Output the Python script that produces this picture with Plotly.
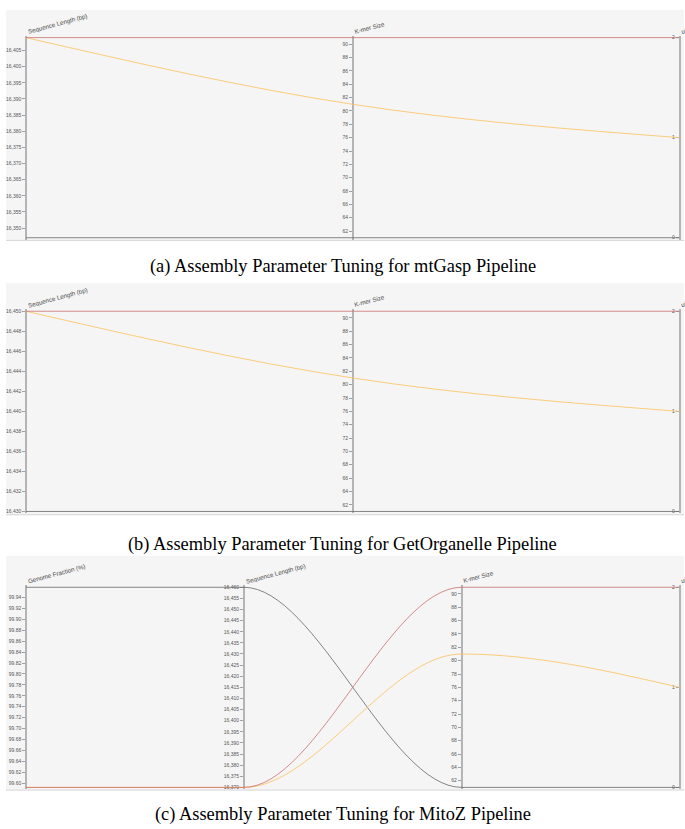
import plotly.graph_objects as go

W, H = 685, 829

# ---- tuning runs (uid 0, 1, 2) per pipeline ----
run_uid = [0, 1, 2]

mtgasp_seq_length = [16347, 16409, 16409]
mtgasp_kmer_size = [61, 81, 91]

getorganelle_seq_length = [16430, 16450, 16450]
getorganelle_kmer_size = [61, 81, 91]

mitoz_genome_fraction = [99.959, 99.592, 99.592]
mitoz_seq_length = [16460, 16370, 16370]
mitoz_kmer_size = [61, 81, 91]

captions = [
    "(a) Assembly Parameter Tuning for mtGasp Pipeline",
    "(b) Assembly Parameter Tuning for GetOrganelle Pipeline",
    "(c) Assembly Parameter Tuning for MitoZ Pipeline",
]

axis_titles = {
    "gf": "Genome Fraction (%)",
    "seq": "Sequence Length (bp)",
    "kmer": "K-mer Size",
    "uid": "uid",
}

run_colors = ["rgba(95,95,95,0.75)", "rgba(252,196,100,0.85)", "rgba(200,104,104,0.75)"]

# dimension = (title, values, tick0, dtick, tickformat)
panels = [
    dict(
        dims=[
            (axis_titles["seq"], mtgasp_seq_length, 16350, 5, ",d"),
            (axis_titles["kmer"], mtgasp_kmer_size, 62, 2, "d"),
            (axis_titles["uid"], run_uid, 0, 1, "d"),
        ],
        bg=(9, 240), axes=(36.7, 237.3), cap_y=266,
    ),
    dict(
        dims=[
            (axis_titles["seq"], getorganelle_seq_length, 16430, 2, ",d"),
            (axis_titles["kmer"], getorganelle_kmer_size, 62, 2, "d"),
            (axis_titles["uid"], run_uid, 0, 1, "d"),
        ],
        bg=(283, 515), axes=(311, 511.7), cap_y=545,
    ),
    dict(
        dims=[
            (axis_titles["gf"], mitoz_genome_fraction, 99.60, 0.02, ".2f"),
            (axis_titles["seq"], mitoz_seq_length, 16370, 5, ",d"),
            (axis_titles["kmer"], mitoz_kmer_size, 62, 2, "d"),
            (axis_titles["uid"], run_uid, 0, 1, "d"),
        ],
        bg=(556, 791), axes=(587.7, 788.3), cap_y=815,
    ),
]

X_FIRST, X_LAST = 26.0, 679.5
PAD = 0.01  # small head-room so curves sitting on an axis end are not clipped
SANS = "Liberation Sans, Arial, sans-serif"


def px_x(v):
    return v / W


def px_y(v):
    return 1 - v / H


def tick_positions(lo, hi, tick0, dtick):
    """Tick values inside the data extent only."""
    out, i = [], 0
    while True:
        v = round(tick0 + i * dtick, 6)
        if v > hi + 1e-9:
            break
        if v >= lo - 1e-9:
            out.append(v)
        i += 1
    return out


def monotone_path(xs, ys):
    """Monotone cubic (Fritsch-Carlson style) path through the points."""
    n = len(xs)
    sgn = lambda v: -1 if v < 0 else 1
    t = [0.0] * n
    for i in range(1, n - 1):
        h0, h1 = xs[i] - xs[i - 1], xs[i + 1] - xs[i]
        s0 = (ys[i] - ys[i - 1]) / h0
        s1 = (ys[i + 1] - ys[i]) / h1
        p = (s0 * h1 + s1 * h0) / (h0 + h1)
        t[i] = (sgn(s0) + sgn(s1)) * min(abs(s0), abs(s1), 0.5 * abs(p))
    if n == 2:
        return f"M {xs[0]},{ys[0]} L {xs[1]},{ys[1]}"
    t[0] = (3 * (ys[1] - ys[0]) / (xs[1] - xs[0]) - t[1]) / 2
    t[-1] = (3 * (ys[-1] - ys[-2]) / (xs[-1] - xs[-2]) - t[-2]) / 2
    d = f"M {xs[0]},{ys[0]}"
    for i in range(n - 1):
        dx = (xs[i + 1] - xs[i]) / 3
        d += (f" C {xs[i] + dx},{ys[i] + dx * t[i]}"
              f" {xs[i + 1] - dx},{ys[i + 1] - dx * t[i + 1]}"
              f" {xs[i + 1]},{ys[i + 1]}")
    return d


fig = go.Figure()
layout = dict(
    width=W, height=H,
    margin=dict(l=0, r=0, t=0, b=0),
    paper_bgcolor="white", plot_bgcolor="rgba(0,0,0,0)",
    showlegend=False,
    shapes=[], annotations=[],
)

next_axis = len(panels) + 1
for k, panel in enumerate(panels, start=1):
    sfx = "" if k == 1 else str(k)
    xref, yref = f"x{sfx}", f"y{sfx}"
    top, bot = panel["axes"]
    span = bot - top
    dims = panel["dims"]
    n = len(dims)

    # panel background with a thin bottom rule
    layout["shapes"].append(dict(
        type="rect", xref="paper", yref="paper", layer="below",
        x0=px_x(6), x1=px_x(684), y0=px_y(panel["bg"][1]), y1=px_y(panel["bg"][0]),
        fillcolor="#f5f5f5", line=dict(width=0),
    ))
    layout["shapes"].append(dict(
        type="line", xref="paper", yref="paper", layer="below",
        x0=px_x(6), x1=px_x(684), y0=px_y(panel["bg"][1]), y1=px_y(panel["bg"][1]),
        line=dict(color="#d6d6d6", width=1),
    ))

    # normalised base axes that carry the curves
    layout[f"xaxis{sfx}"] = dict(
        domain=[px_x(X_FIRST), px_x(X_LAST)], range=[0, n - 1],
        anchor=yref, visible=False, fixedrange=True,
    )
    layout[f"yaxis{sfx}"] = dict(
        domain=[px_y(bot + PAD * span), px_y(top - PAD * span)], range=[-PAD, 1 + PAD],
        anchor=xref, visible=False, fixedrange=True,
    )

    lows = [min(v) for _, v, *_ in dims]
    highs = [max(v) for _, v, *_ in dims]

    for j, (title, vals, tick0, dtick, fmt) in enumerate(dims):
        aid = next_axis
        next_axis += 1
        xpos = X_FIRST + (X_LAST - X_FIRST) * j / (n - 1)
        ext = highs[j] - lows[j]
        layout[f"yaxis{aid}"] = dict(
            overlaying=yref, anchor="free", position=px_x(xpos), side="left",
            range=[lows[j] - PAD * ext, highs[j] + PAD * ext],
            tickmode="array", tickvals=tick_positions(lows[j], highs[j], tick0, dtick),
            tickformat=fmt, showline=True, linecolor="#b4b4b4", linewidth=1.5,
            ticks="outside", ticklen=3, tickwidth=1, tickcolor="#a0a0a0",
            tickfont=dict(family=SANS, size=5, color="#555"),
            showgrid=False, zeroline=False, fixedrange=True,
        )
        fig.add_trace(go.Scatter(
            x=[j] * len(vals), y=vals, xaxis=xref, yaxis=f"y{aid}",
            mode="markers", marker=dict(size=4, opacity=0),
            name=title, hovertemplate=title + ": %{y}<extra></extra>",
        ))
        layout["annotations"].append(dict(
            x=px_x(xpos - 1.5), y=px_y(top - 0.5), xref="paper", yref="paper",
            text=title, showarrow=False, textangle=-15,
            xanchor="left", yanchor="bottom",
            font=dict(family=SANS, size=6.2, color="#4a4a4a"),
        ))

    # one curve per run, positions scaled to each dimension's extent
    for r in range(len(run_uid)):
        xs = list(range(n))
        ys = [(d[1][r] - lows[j]) / (highs[j] - lows[j]) for j, d in enumerate(dims)]
        layout["shapes"].append(dict(
            type="path", xref=xref, yref=yref, path=monotone_path(xs, ys),
            line=dict(color=run_colors[r], width=1), fillcolor="rgba(0,0,0,0)",
        ))

    layout["annotations"].append(dict(
        x=0.5, y=px_y(panel["cap_y"]), xref="paper", yref="paper",
        text=captions[k - 1], showarrow=False, xanchor="center", yanchor="middle",
        font=dict(family="Liberation Serif, Times New Roman, serif", size=18.4, color="black"),
    ))

fig.update_layout(**layout)
fig.write_html("out.html")
